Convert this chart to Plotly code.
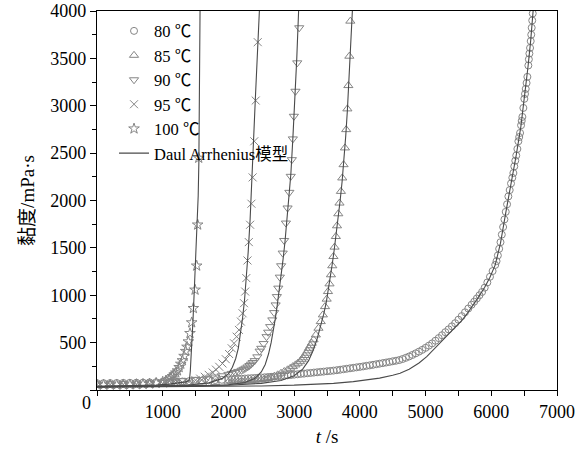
import plotly.graph_objects as go

# ---------------- data ----------------
T80 = [0,100,200,300,400,500,600,700,800,900,1000,1100,1200,1300,1400,1500,1600,1700,1800,1900,
       2000,2050,2100,2150,2200,2250,2300,2350,2400,2450,2500,2550,2600,2650,2700,2750,2800,2850,2900,2950,
       3000,3050,3100,3150,3200,3250,3300,3350,3400,3450,3500,3550,3600,3650,3700,3750,3800,3850,3900,3950,
       4000,4050,4100,4150,4200,4250,4300,4350,4400,4450,4500,4550,4600,4650,4700,4750,4800,4850,4900,4950,5000,
       5050,5100,5150,5200,5250,5300,5350,5400,5450,5500,5550,5600,5650,5700,
       5740,5780,5820,5860,5900,5940,5980,6020,6060,
       6080,6100,6120,6140,6160,6180,6200,6220,6240,6260,
       6280,6300,6320,6336,6350,6365,6380,6397,6412,6425,6438,6453,6463,6473,6488,6503,6513,6524,6537,6549,
       6564,6572,6580,6590,6600,6608,6615,6623,6631]
V80 = [72,72,73,74,75,76,77,78,80,82,84,86,88,90,93,96,99,102,105,108,
       111,113,115,117,119,121,123,125,127,129,132,134,137,139,142,145,148,151,155,158,
       162,166,170,173,177,180,184,187,191,194,198,201,205,209,214,219,224,229,234,239,
       244,249,255,260,266,272,278,284,290,296,303,309,316,327,340,354,370,387,405,424,445,
       468,492,520,548,578,610,640,672,705,742,780,820,860,900,
       932,966,1000,1035,1080,1135,1195,1255,1320,
       1360,1420,1490,1560,1640,1720,1800,1880,1960,2043,
       2110,2180,2240,2290,2360,2420,2475,2544,2625,2670,2713,2794,2840,2882,2977,3073,3125,3178,3240,3305,
       3425,3490,3551,3610,3682,3750,3823,3900,3974]

T85 = [0,200,400,600,800,1000,1200,1400,1600,1800,
       2000,2050,2100,2150,2200,2250,2300,2350,2400,2450,2500,2550,2600,2650,2700,2750,
       2800,2850,2900,2940,2980,3020,3055,3090,3115,3135,3160,3185,3205,3225,3248,3268,
       3295,3330,3370,3405,3437,3470,3495,3515,3538,3560,3580,3598,3615,3635,3652,3672,3690,3712,
       3732,3752,3773,3792,3810,3825,3840,3855]
V85 = [62,62,63,63,64,66,68,70,73,78,
       85,87,89,91,93,95,97,100,103,106,109,114,121,131,145,160,
       177,195,213,229,247,265,282,299,320,340,364,388,413,440,467,494,
       530,581,652,722,793,880,959,1039,1120,1216,1311,1409,1508,1620,1733,1860,1973,2096,
       2238,2378,2555,2748,2967,3213,3523,3893]

T90 = [0,200,400,600,800,1000,1160,1300,1500,1670,1800,1900,2000,2050,2100,2150,2200,2230,2260,2290,
       2320,2345,2370,2400,2440,2475,2500,2535,2580,2605,2635,2668,2695,2718,2737,2759,2782,2802,2826,2848,
       2875,2900,2927,2948,2965,2980,2996,3020,3047,3077]
V90 = [65,67,69,72,76,82,88,98,112,124,137,150,165,175,185,196,208,218,230,243,
       258,273,290,310,350,410,440,490,563,610,669,740,817,898,986,1075,1191,1311,1445,1578,
       1762,1921,2086,2255,2431,2650,2889,3153,3453,3823]

T95 = [0,200,400,600,800,1000,1200,1300,1400,1500,1570,1640,1700,1760,1810,1860,1910,1960,2010,2050,
       2085,2125,2160,2190,2215,2237,2255,2272,2290,2310,2330,2350,2368,2393,2415,2446]
V95 = [58,58,59,61,64,68,75,80,88,103,120,140,160,185,215,245,280,325,380,440,
       493,563,634,722,810,916,1039,1181,1367,1561,1744,1966,2244,2625,3055,3671]

T100 = [0,100,200,300,400,500,600,700,800,900,1000,1050,1100,1125,1150,1175,1200,1225,1250,1275,
        1300,1325,1350,1370,1390,1415,1441,1466,1492,1517,1532,1548]
V100 = [55,55,55,55,56,57,59,62,66,74,86,98,115,130,145,163,182,205,240,275,
        312,358,410,455,511,599,712,863,1057,1311,1744,2449]

# Daul Arrhenius model curves
TM80 = [0,500,1000,1500,2000,2500,3000,3300,3600,3900,4105,4300,4500,4612,4750,4900,5018,5150,5271,5380,
        5474,5560,5626,5700,5800,5900,5980,6060,6140,6220,6300,6380,6450,6510,6560,6600,6640]
VM80 = [30,31,32,35,38,43,51,58,70,88,106,125,155,176,220,285,352,445,529,605,
        669,740,800,870,975,1085,1190,1320,1550,1870,2170,2480,2780,3100,3420,3690,4030]
TM85 = [0,1200,2000,2500,2800,3000,3130,3220,3290,3350,3400,3450,3490,3520,3550,3580,3610,3640,3670,3700,3730,3758,3785,3810,3835,3860,3886]
VM85 = [36,40,50,70,100,150,220,310,420,540,660,800,930,1050,1190,1330,1480,1640,1820,2000,2200,2420,2680,2950,3250,3600,4000]
TM90 = [0,800,1500,2000,2250,2400,2500,2560,2610,2650,2680,2710,2740,2770,2800,2830,2860,2890,2920,2950,2980,3010,3040,3068]
VM90 = [36,38,42,55,80,120,190,270,380,500,610,740,880,1030,1200,1370,1560,1780,2000,2280,2650,3050,3500,4000]
TM95 = [0,500,1000,1400,1700,1900,2000,2060,2110,2150,2185,2215,2245,2270,2300,2330,2355,2380,2410,2440,2471]
VM95 = [36,38,42,52,75,120,170,240,330,440,600,760,950,1160,1450,1800,2150,2600,3080,3550,4000]
TM100 = [0,300,600,900,1100,1250,1350,1400,1410,1420,1441,1461,1481,1507,1525,1540,1550,1560,1568]
VM100 = [40,42,45,52,62,74,86,100,130,200,423,740,1060,1480,1760,2050,2400,3000,4000]

NAMES = ["80 ℃", "85 ℃", "90 ℃", "95 ℃", "100 ℃"]
MODEL_NAME = "Daul Arrhenius模型"
XTICKS = [0, 1000, 2000, 3000, 4000, 5000, 6000, 7000]
XTICKTEXT = ["", "1000", "2000", "3000", "4000", "5000", "6000", "7000"]
YTICKS = [0, 500, 1000, 1500, 2000, 2500, 3000, 3500, 4000]
YTICKTEXT = ["", "500", "1000", "1500", "2000", "2500", "3000", "3500", "4000"]

# ---------------- figure ----------------
FONT = "Liberation Serif, Times New Roman, Noto Sans CJK SC, serif"
MCOL = "#858585"
LCOL = "#4a4a4a"

series = [(T80, V80, "circle-open", 7), (T85, V85, "triangle-up-open", 8),
          (T90, V90, "triangle-down-open", 8), (T95, V95, "x-thin-open", 8),
          (T100, V100, "star-open", 8)]
models = [(TM80, VM80), (TM85, VM85), (TM90, VM90), (TM95, VM95), (TM100, VM100)]

fig = go.Figure()
for (t, v, sym, sz), name in zip(series, NAMES):
    fig.add_trace(go.Scatter(x=t, y=v, mode="markers", name=name,
                             marker=dict(symbol=sym, size=sz, color=MCOL,
                                         line=dict(color=MCOL, width=1))))
for i, (t, v) in enumerate(models):
    fig.add_trace(go.Scatter(x=t, y=v, mode="lines", name=MODEL_NAME,
                             legendgroup="model", showlegend=(i == 0),
                             line=dict(color=LCOL, width=1.1)))

fig.update_layout(
    width=585, height=450,
    margin=dict(l=97, r=28, t=11, b=60, autoexpand=False),
    paper_bgcolor="white", plot_bgcolor="white",
    font=dict(family=FONT, size=18, color="black"),
    showlegend=True,
    legend=dict(x=0.037, y=0.993, xanchor="left", yanchor="top",
                bgcolor="rgba(0,0,0,0)", borderwidth=0,
                font=dict(family=FONT, size=16.5, color="black"),
                tracegroupgap=0, itemwidth=30),
    xaxis=dict(range=[0, 7000], tickvals=XTICKS, ticktext=XTICKTEXT, automargin=False,
               ticks="outside", ticklen=5, tickwidth=1, tickcolor="black",
               minor=dict(dtick=500, tick0=0, ticks="outside", ticklen=5, tickcolor="black", showgrid=False),
               showline=True, linecolor="black", linewidth=1.2, mirror=True,
               showgrid=False, zeroline=False,
               tickfont=dict(family=FONT, size=18),
               title=dict(text="<i>t</i> /s", font=dict(family=FONT, size=19), standoff=8)),
    yaxis=dict(range=[0, 4000], tickvals=YTICKS, ticktext=YTICKTEXT, automargin=False,
               ticks="outside", ticklen=6, tickwidth=1, tickcolor="black",
               minor=dict(dtick=250, tick0=0, ticks="outside", ticklen=4, tickcolor="black", showgrid=False),
               showline=True, linecolor="black", linewidth=1.2, mirror=True,
               showgrid=False, zeroline=False,
               tickfont=dict(family=FONT, size=18),
               title=dict(text="黏度/mPa·s", font=dict(family=FONT, size=19), standoff=10)),
    annotations=[dict(text="0", xref="paper", yref="paper", x=-0.022, y=-0.033,
                      xanchor="center", yanchor="middle", showarrow=False,
                      font=dict(family=FONT, size=18, color="black"))],
)

fig.write_html("out.html", config={"displayModeBar": False},
               post_script="document.body.style.margin='0';")
